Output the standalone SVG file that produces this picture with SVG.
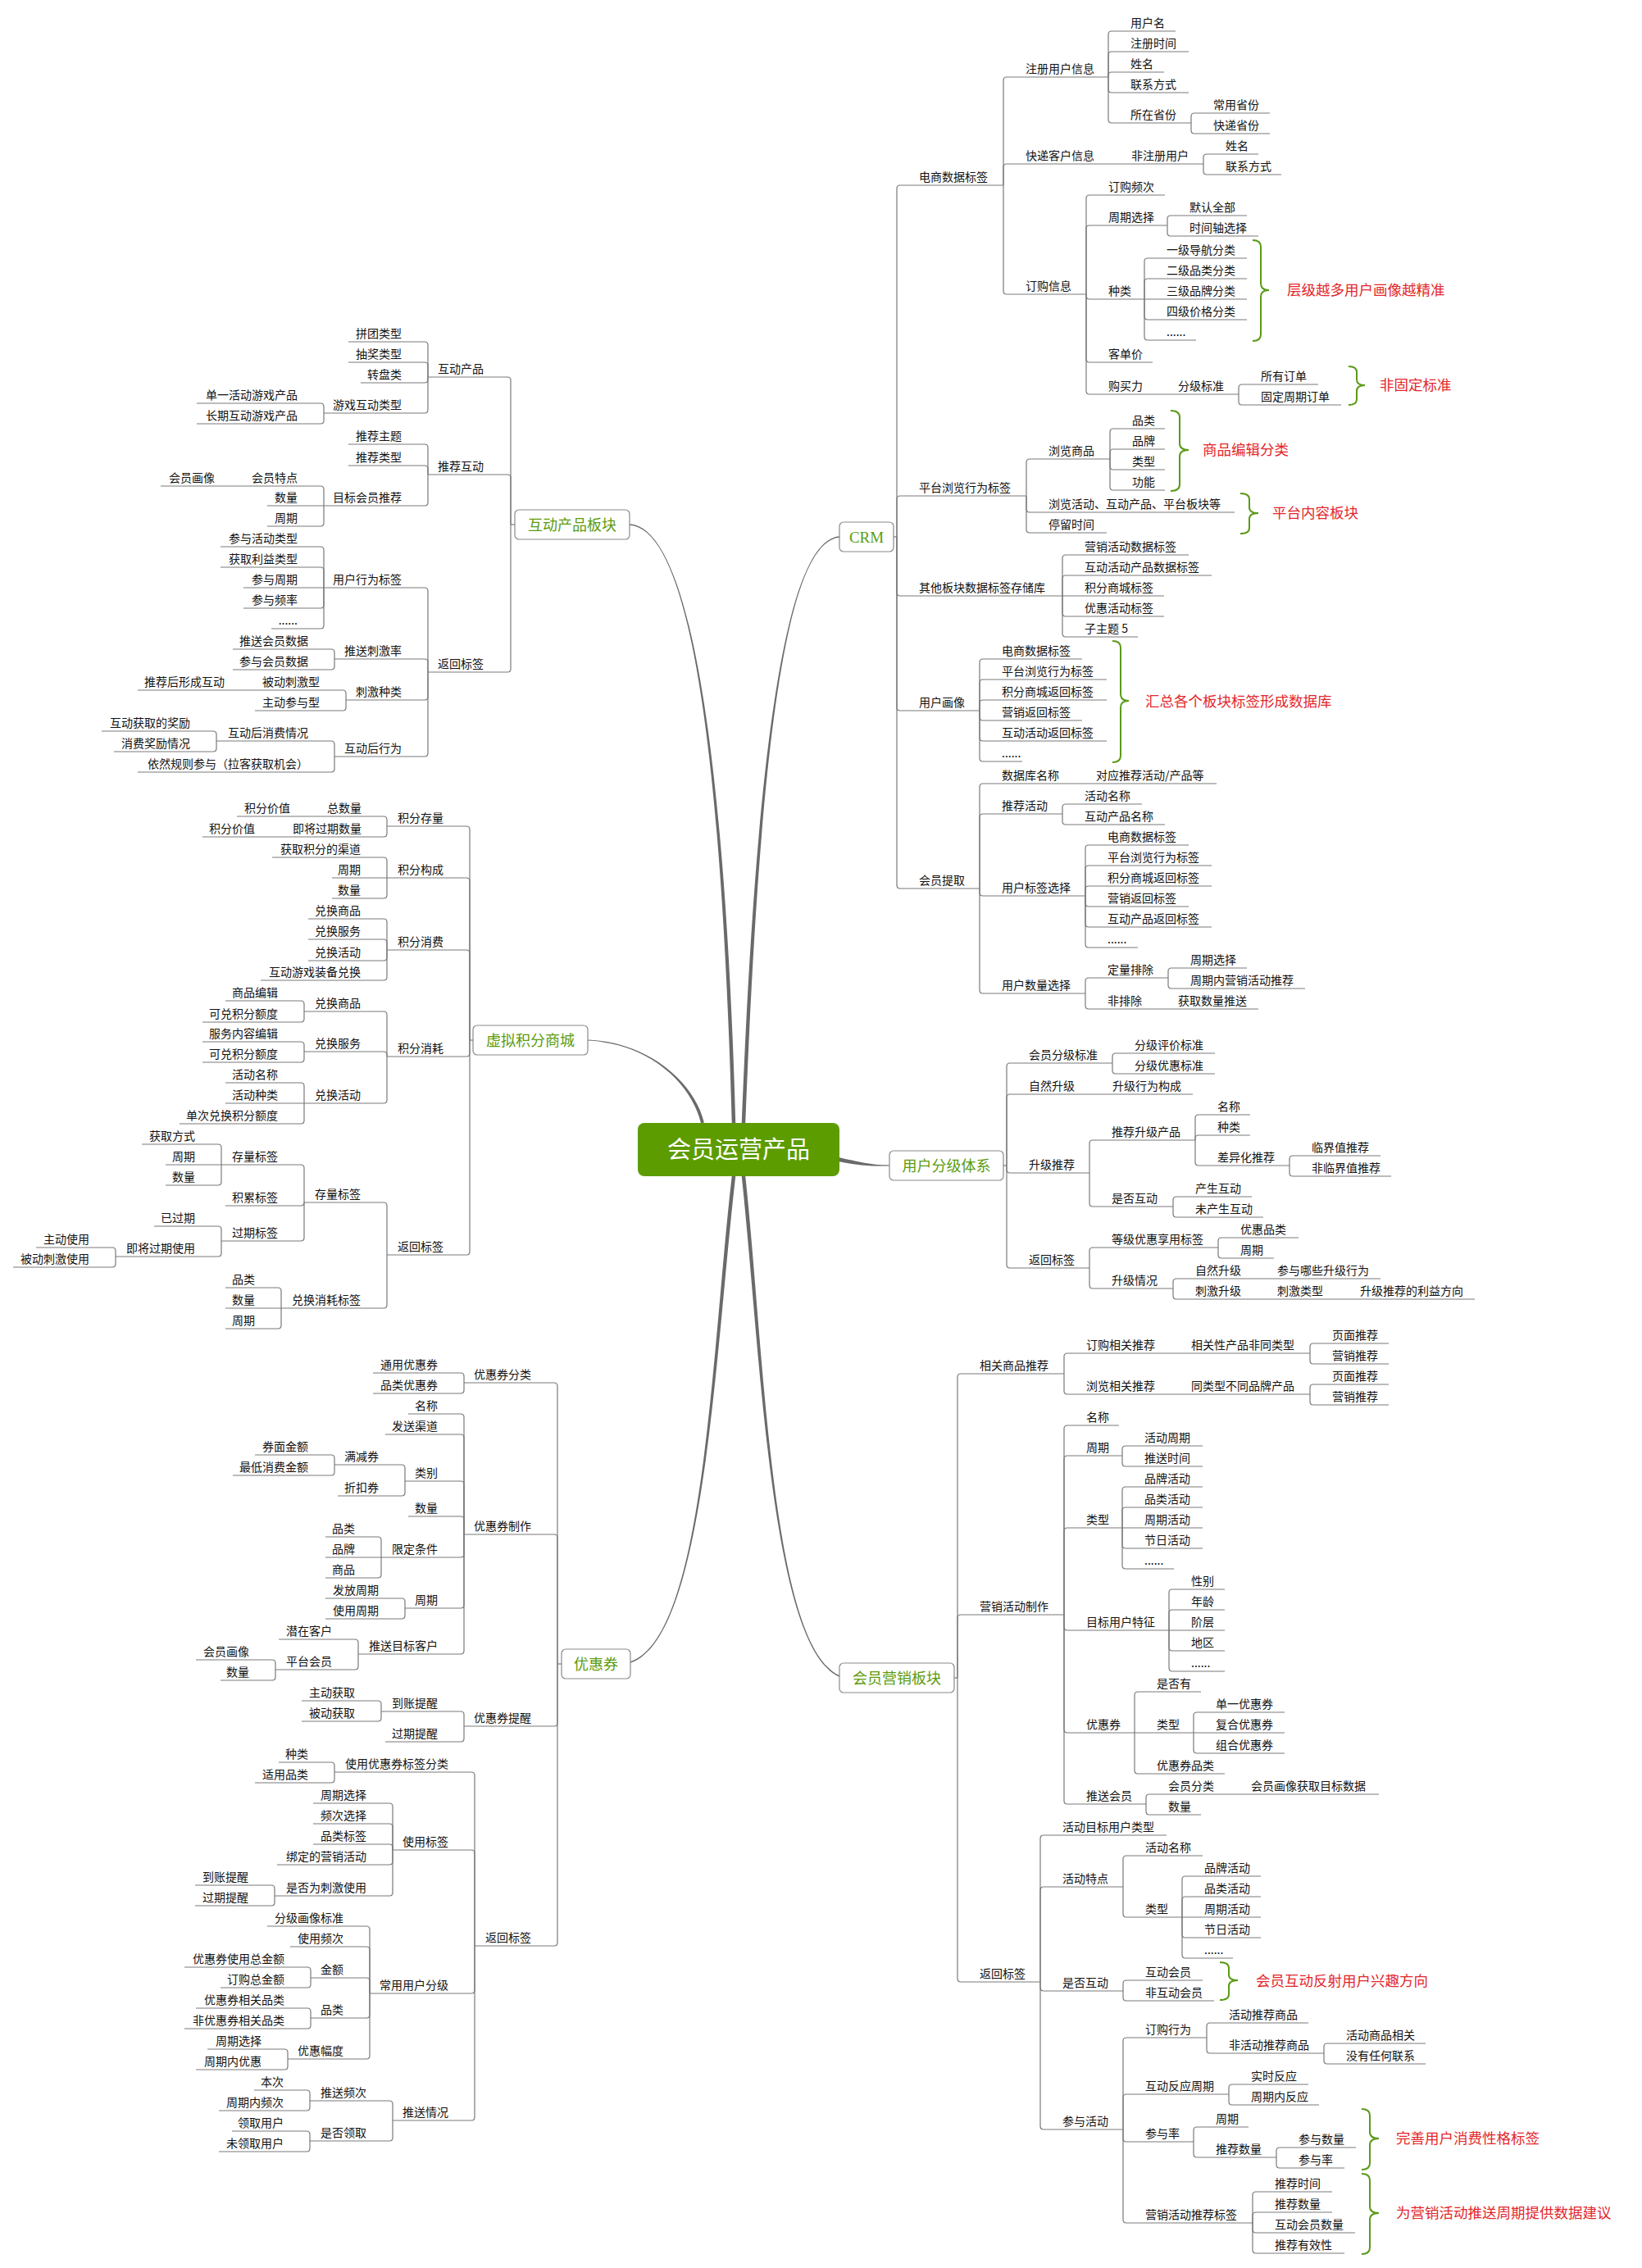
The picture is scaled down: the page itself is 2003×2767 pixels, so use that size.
<svg xmlns="http://www.w3.org/2000/svg" width="2003" height="2767" viewBox="0 0 2003 2767">
<style>
.t{font-family:"Noto Sans CJK SC","Noto Sans",sans-serif;font-size:14px;fill:#111}
.e{text-anchor:end}
.b{font-family:"Noto Sans CJK SC","Noto Sans",sans-serif;font-size:18px;fill:#5b9b0d;text-anchor:middle}
.crm{font-family:"Liberation Serif",serif;font-size:19px;fill:#5b9b0d;text-anchor:middle}
.box{fill:#fff;stroke:#8a8a8a;stroke-width:1.2}
.r{font-family:"Noto Sans CJK SC","Noto Sans",sans-serif;font-size:17.5px;fill:#e3262b}
#connectors path{fill:none;stroke:#7a7a7a;stroke-width:1.2}
#connectors path.main{fill:#6a6a6a;stroke:none}
#connectors path.br{stroke:#5a9a18;stroke-width:2}
</style>
<rect width="2003" height="2767" fill="#fff"/>
<g id="connectors">
<path class="main" d="M897.25 1370C886.25 980 850 644.25 768 639.25L768 640.75C850 645.75 881.75 980 892.75 1370Z"/>
<path class="main" d="M858.9 1369.5C846.9 1319.5 790 1271.4 717 1268.4L717 1269.6C790 1272.6 843.1 1320.5 855.1 1370.5Z"/>
<path class="main" d="M904.75 1370C919.75 990 950 659.25 1024 654.25L1024 655.75C950 660.75 924.25 990 909.25 1370Z"/>
<path class="main" d="M1020 1411.5C1050 1417.5 1060 1421.4 1085 1421.4L1085 1422.6C1060 1422.6 1050 1422.5 1020 1416.5Z"/>
<path class="main" d="M897.25 1435C872.25 1650 860.2 1998.7 769.2 2028.7L768.8 2027.3C859.8 1997.3 867.75 1650 892.75 1435Z"/>
<path class="main" d="M904.75 1435C927.75 1650 939.7 2008.7 1023.7 2045.7L1024.3 2044.3C940.3 2007.3 932.25 1650 909.25 1435Z"/>
<!-- tree 1 -->
<path d="M623 640H628"/>
<path d="M522 460H619Q623 460 623 464V640"/>
<path d="M522 579H619Q623 579 623 583V640"/>
<path d="M522 820H619Q623 820 623 816V640"/>
<path d="M425 417H518Q522 417 522 421V460"/>
<path d="M425 442H518Q522 442 522 446V460"/>
<path d="M440 467H518Q522 467 522 463V460"/>
<path d="M395 504H518Q522 504 522 500V460"/>
<path d="M240 492H391Q395 492 395 496V504"/>
<path d="M240 517H391Q395 517 395 513V504"/>
<path d="M425 542H518Q522 542 522 546V579"/>
<path d="M425 568H518Q522 568 522 572V579"/>
<path d="M395 617H518Q522 617 522 613V579"/>
<path d="M297 593H391Q395 593 395 597V617"/>
<path d="M196 593H297"/>
<path d="M326 617H395"/>
<path d="M326 642H391Q395 642 395 638V617"/>
<path d="M395 717H518Q522 717 522 721V820"/>
<path d="M408 804H518Q522 804 522 808V820"/>
<path d="M422 854H518Q522 854 522 850V820"/>
<path d="M408 923H518Q522 923 522 919V820"/>
<path d="M269 667H391Q395 667 395 671V717"/>
<path d="M269 692H391Q395 692 395 696V717"/>
<path d="M297 717H395"/>
<path d="M297 742H391Q395 742 395 738V717"/>
<path d="M331 767H391Q395 767 395 763V717"/>
<path d="M284 792H404Q408 792 408 796V804"/>
<path d="M284 817H404Q408 817 408 813V804"/>
<path d="M311 842H418Q422 842 422 846V854"/>
<path d="M168 842H311"/>
<path d="M311 867H418Q422 867 422 863V854"/>
<path d="M264 904H404Q408 904 408 908V923"/>
<path d="M168 942H404Q408 942 408 938V923"/>
<path d="M124 892H260Q264 892 264 896V904"/>
<path d="M139 917H260Q264 917 264 913V904"/>
<!-- tree 2 -->
<path d="M573 1269H577"/>
<path d="M472 1008H569Q573 1008 573 1012V1269"/>
<path d="M472 1071H569Q573 1071 573 1075V1269"/>
<path d="M472 1159H569Q573 1159 573 1163V1269"/>
<path d="M472 1289H569Q573 1289 573 1285V1269"/>
<path d="M472 1531H569Q573 1531 573 1527V1269"/>
<path d="M392 996H468Q472 996 472 1000V1008"/>
<path d="M289 996H392"/>
<path d="M347 1021H468Q472 1021 472 1017V1008"/>
<path d="M247 1021H347"/>
<path d="M332 1046H468Q472 1046 472 1050V1071"/>
<path d="M405 1071H472"/>
<path d="M405 1096H468Q472 1096 472 1092V1071"/>
<path d="M376 1121H468Q472 1121 472 1125V1159"/>
<path d="M376 1146H468Q472 1146 472 1150V1159"/>
<path d="M376 1172H468Q472 1172 472 1168V1159"/>
<path d="M318 1196H468Q472 1196 472 1192V1159"/>
<path d="M371 1234H468Q472 1234 472 1238V1289"/>
<path d="M371 1283H468Q472 1283 472 1287V1289"/>
<path d="M371 1346H468Q472 1346 472 1342V1289"/>
<path d="M275 1221H367Q371 1221 371 1225V1234"/>
<path d="M247 1247H367Q371 1247 371 1243V1234"/>
<path d="M247 1271H367Q371 1271 371 1275V1283"/>
<path d="M247 1296H367Q371 1296 371 1292V1283"/>
<path d="M275 1321H367Q371 1321 371 1325V1346"/>
<path d="M275 1346H371"/>
<path d="M219 1371H367Q371 1371 371 1367V1346"/>
<path d="M371 1467H468Q472 1467 472 1471V1531"/>
<path d="M343 1596H468Q472 1596 472 1592V1531"/>
<path d="M270 1421H367Q371 1421 371 1425V1467"/>
<path d="M275 1471H367Q371 1471 371 1467"/>
<path d="M270 1514H367Q371 1514 371 1510V1467"/>
<path d="M173 1396H266Q270 1396 270 1400V1421"/>
<path d="M202 1421H270"/>
<path d="M202 1446H266Q270 1446 270 1442V1421"/>
<path d="M188 1496H266Q270 1496 270 1500V1514"/>
<path d="M141 1533H266Q270 1533 270 1529V1514"/>
<path d="M44 1522H137Q141 1522 141 1526V1533"/>
<path d="M16 1546H137Q141 1546 141 1542V1533"/>
<path d="M275 1571H339Q343 1571 343 1575V1596"/>
<path d="M275 1596H343"/>
<path d="M275 1621H339Q343 1621 343 1617V1596"/>
<!-- tree 3 -->
<path d="M680 2030H685"/>
<path d="M566 1687H676Q680 1687 680 1691V2030"/>
<path d="M566 1872H676Q680 1872 680 1876V2030"/>
<path d="M566 2106H676Q680 2106 680 2102V2030"/>
<path d="M579 2374H676Q680 2374 680 2370V2030"/>
<path d="M455 1675H562Q566 1675 566 1679V1687"/>
<path d="M455 1700H562Q566 1700 566 1696V1687"/>
<path d="M498 1725H562Q566 1725 566 1729V1872"/>
<path d="M470 1750H562Q566 1750 566 1754V1872"/>
<path d="M494 1807H562Q566 1807 566 1811V1872"/>
<path d="M498 1850H562Q566 1850 566 1854V1872"/>
<path d="M465 1900H562Q566 1900 566 1896V1872"/>
<path d="M494 1962H562Q566 1962 566 1958V1872"/>
<path d="M437 2018H562Q566 2018 566 2014V1872"/>
<path d="M408 1787H490Q494 1787 494 1791V1807"/>
<path d="M412 1825H490Q494 1825 494 1821V1807"/>
<path d="M311 1775H404Q408 1775 408 1779V1787"/>
<path d="M284 1800H404Q408 1800 408 1796V1787"/>
<path d="M397 1875H461Q465 1875 465 1879V1900"/>
<path d="M397 1900H465"/>
<path d="M397 1925H461Q465 1925 465 1921V1900"/>
<path d="M397 1950H490Q494 1950 494 1954V1962"/>
<path d="M397 1975H490Q494 1975 494 1971V1962"/>
<path d="M340 2000H433Q437 2000 437 2004V2018"/>
<path d="M336 2037H433Q437 2037 437 2033V2018"/>
<path d="M239 2025H332Q336 2025 336 2029V2037"/>
<path d="M269 2050H332Q336 2050 336 2046V2037"/>
<path d="M465 2088H562Q566 2088 566 2092V2106"/>
<path d="M470 2125H562Q566 2125 566 2121V2106"/>
<path d="M368 2075H461Q465 2075 465 2079V2088"/>
<path d="M368 2100H461Q465 2100 465 2096V2088"/>
<path d="M408 2162H575Q579 2162 579 2166V2374"/>
<path d="M479 2257H575Q579 2257 579 2261V2374"/>
<path d="M451 2432H575Q579 2432 579 2428V2374"/>
<path d="M479 2587H575Q579 2587 579 2583V2374"/>
<path d="M340 2150H404Q408 2150 408 2154V2162"/>
<path d="M311 2175H404Q408 2175 408 2171V2162"/>
<path d="M382 2200H475Q479 2200 479 2204V2257"/>
<path d="M382 2225H475Q479 2225 479 2229V2257"/>
<path d="M382 2250H475Q479 2250 479 2254V2257"/>
<path d="M338 2275H475Q479 2275 479 2271V2257"/>
<path d="M335 2313H475Q479 2313 479 2309V2257"/>
<path d="M238 2300H331Q335 2300 335 2304V2313"/>
<path d="M238 2325H331Q335 2325 335 2321V2313"/>
<path d="M326 2350H447Q451 2350 451 2354V2432"/>
<path d="M354 2375H447Q451 2375 451 2379V2432"/>
<path d="M379 2413H447Q451 2413 451 2417V2432"/>
<path d="M379 2462H447Q451 2462 451 2458V2432"/>
<path d="M351 2512H447Q451 2512 451 2508V2432"/>
<path d="M225 2400H375Q379 2400 379 2404V2413"/>
<path d="M269 2425H375Q379 2425 379 2421V2413"/>
<path d="M239 2450H375Q379 2450 379 2454V2462"/>
<path d="M225 2475H375Q379 2475 379 2471V2462"/>
<path d="M253 2500H347Q351 2500 351 2504V2512"/>
<path d="M239 2525H347Q351 2525 351 2521V2512"/>
<path d="M378 2563H475Q479 2563 479 2567V2587"/>
<path d="M378 2612H475Q479 2612 479 2608V2587"/>
<path d="M310 2550H374Q378 2550 378 2554V2563"/>
<path d="M267 2575H374Q378 2575 378 2571V2563"/>
<path d="M283 2600H374Q378 2600 378 2604V2612"/>
<path d="M267 2625H374Q378 2625 378 2621V2612"/>
<!-- CRM -->
<path d="M1090 655H1094"/>
<path d="M1224 226H1098Q1094 226 1094 230V655"/>
<path d="M1252 605H1098Q1094 605 1094 609V655"/>
<path d="M1296 727H1098Q1094 727 1094 723V655"/>
<path d="M1195 867H1098Q1094 867 1094 863V655"/>
<path d="M1195 1084H1098Q1094 1084 1094 1080V655"/>
<path d="M1352 94H1228Q1224 94 1224 98V226"/>
<path d="M1353 200H1228Q1224 200 1224 204V226"/>
<path d="M1325 359H1228Q1224 359 1224 355V226"/>
<path d="M1468 200H1353"/>
<path d="M1434 38H1356Q1352 38 1352 42V94"/>
<path d="M1450 63H1356Q1352 63 1352 67V94"/>
<path d="M1420 88H1356Q1352 88 1352 92V94"/>
<path d="M1450 113H1356Q1352 113 1352 109V94"/>
<path d="M1453 150H1356Q1352 150 1352 146V94"/>
<path d="M1549 138H1457Q1453 138 1453 142V150"/>
<path d="M1549 163H1457Q1453 163 1453 159V150"/>
<path d="M1535 188H1472Q1468 188 1468 192V200"/>
<path d="M1563 213H1472Q1468 213 1468 209V200"/>
<path d="M1421 238H1329Q1325 238 1325 242V359"/>
<path d="M1424 275H1329Q1325 275 1325 279V359"/>
<path d="M1396 365H1329Q1325 365 1325 361V359"/>
<path d="M1406 442H1329Q1325 442 1325 438V359"/>
<path d="M1410 481H1329Q1325 481 1325 477V359"/>
<path d="M1511 481H1410"/>
<path d="M1521 263H1428Q1424 263 1424 267V275"/>
<path d="M1535 288H1428Q1424 288 1424 284V275"/>
<path d="M1521 315H1400Q1396 315 1396 319V365"/>
<path d="M1521 340H1400Q1396 340 1396 344V365"/>
<path d="M1521 365H1396"/>
<path d="M1521 390H1400Q1396 390 1396 386V365"/>
<path d="M1459 415H1400Q1396 415 1396 411V365"/>
<path d="M1608 469H1515Q1511 469 1511 473V481"/>
<path d="M1636 494H1515Q1511 494 1511 490V481"/>
<path d="M1354 560H1256Q1252 560 1252 564V605"/>
<path d="M1506 625H1256Q1252 625 1252 621V605"/>
<path d="M1350 650H1256Q1252 650 1252 646V605"/>
<path d="M1421 523H1358Q1354 523 1354 527V560"/>
<path d="M1421 548H1358Q1354 548 1354 552V560"/>
<path d="M1421 573H1358Q1354 573 1354 569V560"/>
<path d="M1421 598H1358Q1354 598 1354 594V560"/>
<path d="M1450 677H1300Q1296 677 1296 681V727"/>
<path d="M1478 702H1300Q1296 702 1296 706V727"/>
<path d="M1420 727H1296"/>
<path d="M1420 752H1300Q1296 752 1296 748V727"/>
<path d="M1388 777H1300Q1296 777 1296 773V727"/>
<path d="M1320 804H1199Q1195 804 1195 808V867"/>
<path d="M1350 829H1199Q1195 829 1195 833V867"/>
<path d="M1350 854H1199Q1195 854 1195 858V867"/>
<path d="M1320 879H1199Q1195 879 1195 875V867"/>
<path d="M1350 904H1199Q1195 904 1195 900V867"/>
<path d="M1247 929H1199Q1195 929 1195 925V867"/>
<path d="M1310 956H1199Q1195 956 1195 960V1084"/>
<path d="M1484 956H1310"/>
<path d="M1296 993H1199Q1195 993 1195 997V1084"/>
<path d="M1324 1093H1199Q1195 1093 1195 1089V1084"/>
<path d="M1324 1212H1199Q1195 1212 1195 1208V1084"/>
<path d="M1393 981H1300Q1296 981 1296 985V993"/>
<path d="M1421 1006H1300Q1296 1006 1296 1002V993"/>
<path d="M1450 1031H1328Q1324 1031 1324 1035V1093"/>
<path d="M1478 1056H1328Q1324 1056 1324 1060V1093"/>
<path d="M1478 1081H1328Q1324 1081 1324 1085V1093"/>
<path d="M1450 1106H1328Q1324 1106 1324 1102V1093"/>
<path d="M1478 1131H1328Q1324 1131 1324 1127V1093"/>
<path d="M1388 1156H1328Q1324 1156 1324 1152V1093"/>
<path d="M1425 1193H1328Q1324 1193 1324 1197V1212"/>
<path d="M1410 1231H1328Q1324 1231 1324 1227V1212"/>
<path d="M1535 1231H1410"/>
<path d="M1521 1181H1429Q1425 1181 1425 1185V1193"/>
<path d="M1592 1206H1429Q1425 1206 1425 1202V1193"/>
<path class="br" d="M1528 293Q1538 293 1538 301L1538 346Q1538 354 1548 354Q1538 354 1538 362L1538 408Q1538 416 1528 416"/>
<path class="br" d="M1645 447Q1655 447 1655 454L1655 463Q1655 470 1665 470Q1655 470 1655 477L1655 487Q1655 494 1645 494"/>
<path class="br" d="M1428 501Q1439 501 1439 509L1439 541Q1439 549 1450 549Q1439 549 1439 557L1439 591Q1439 599 1428 599"/>
<path class="br" d="M1513 602Q1524 602 1524 609L1524 619Q1524 626 1535 626Q1524 626 1524 633L1524 644Q1524 651 1513 651"/>
<path class="br" d="M1357 782Q1367 782 1367 790L1367 847Q1367 855 1377 855Q1367 855 1367 863L1367 922Q1367 930 1357 930"/>
<!-- user level -->
<path d="M1224 1422H1228"/>
<path d="M1357 1297H1232Q1228 1297 1228 1301V1422"/>
<path d="M1330 1335H1232Q1228 1335 1228 1339V1422"/>
<path d="M1455 1335H1330"/>
<path d="M1329 1431H1232Q1228 1431 1228 1427V1422"/>
<path d="M1329 1547H1232Q1228 1547 1228 1543V1422"/>
<path d="M1482 1285H1361Q1357 1285 1357 1289V1297"/>
<path d="M1482 1310H1361Q1357 1310 1357 1306V1297"/>
<path d="M1458 1391H1333Q1329 1391 1329 1395V1431"/>
<path d="M1431 1472H1333Q1329 1472 1329 1468V1431"/>
<path d="M1525 1360H1462Q1458 1360 1458 1364V1391"/>
<path d="M1525 1385H1462Q1458 1385 1458 1389V1391"/>
<path d="M1573 1422H1462Q1458 1422 1458 1418V1391"/>
<path d="M1684 1410H1577Q1573 1410 1573 1414V1422"/>
<path d="M1697 1435H1577Q1573 1435 1573 1431V1422"/>
<path d="M1527 1460H1435Q1431 1460 1431 1464V1472"/>
<path d="M1541 1485H1435Q1431 1485 1431 1481V1472"/>
<path d="M1486 1522H1333Q1329 1522 1329 1526V1547"/>
<path d="M1431 1572H1333Q1329 1572 1329 1568V1547"/>
<path d="M1584 1510H1490Q1486 1510 1486 1514V1522"/>
<path d="M1554 1535H1490Q1486 1535 1486 1531V1522"/>
<path d="M1531 1560H1435Q1431 1560 1431 1564V1572"/>
<path d="M1684 1560H1531"/>
<path d="M1531 1585H1435Q1431 1585 1431 1581V1572"/>
<path d="M1632 1585H1531"/>
<path d="M1799 1585H1632"/>
<!-- marketing -->
<path d="M1164 2047H1168"/>
<path d="M1298 1676H1172Q1168 1676 1168 1680V2047"/>
<path d="M1298 1970H1172Q1168 1970 1168 1974V2047"/>
<path d="M1269 2418H1172Q1168 2418 1168 2414V2047"/>
<path d="M1426 1651H1302Q1298 1651 1298 1655V1676"/>
<path d="M1598 1651H1426"/>
<path d="M1426 1701H1302Q1298 1701 1298 1697V1676"/>
<path d="M1598 1701H1426"/>
<path d="M1694 1639H1602Q1598 1639 1598 1643V1651"/>
<path d="M1694 1664H1602Q1598 1664 1598 1660V1651"/>
<path d="M1694 1689H1602Q1598 1689 1598 1693V1701"/>
<path d="M1694 1714H1602Q1598 1714 1598 1710V1701"/>
<path d="M1365 1739H1302Q1298 1739 1298 1743V1970"/>
<path d="M1369 1776H1302Q1298 1776 1298 1780V1970"/>
<path d="M1369 1864H1302Q1298 1864 1298 1868V1970"/>
<path d="M1426 1989H1302Q1298 1989 1298 1985V1970"/>
<path d="M1384 2114H1302Q1298 2114 1298 2110V1970"/>
<path d="M1398 2201H1302Q1298 2201 1298 2197V1970"/>
<path d="M1467 1764H1373Q1369 1764 1369 1768V1776"/>
<path d="M1467 1789H1373Q1369 1789 1369 1785V1776"/>
<path d="M1467 1814H1373Q1369 1814 1369 1818V1864"/>
<path d="M1467 1839H1373Q1369 1839 1369 1843V1864"/>
<path d="M1467 1864H1369"/>
<path d="M1467 1889H1373Q1369 1889 1369 1885V1864"/>
<path d="M1432 1914H1373Q1369 1914 1369 1910V1864"/>
<path d="M1494 1939H1430Q1426 1939 1426 1943V1989"/>
<path d="M1494 1964H1430Q1426 1964 1426 1968V1989"/>
<path d="M1494 1989H1426"/>
<path d="M1494 2014H1430Q1426 2014 1426 2010V1989"/>
<path d="M1494 2039H1430Q1426 2039 1426 2035V1989"/>
<path d="M1465 2064H1388Q1384 2064 1384 2068V2114"/>
<path d="M1456 2114H1384"/>
<path d="M1494 2164H1388Q1384 2164 1384 2160V2114"/>
<path d="M1567 2089H1460Q1456 2089 1456 2093V2114"/>
<path d="M1567 2114H1456"/>
<path d="M1567 2139H1460Q1456 2139 1456 2135V2114"/>
<path d="M1500 2189H1402Q1398 2189 1398 2193V2201"/>
<path d="M1682 2189H1500"/>
<path d="M1465 2214H1402Q1398 2214 1398 2210V2201"/>
<path d="M1423 2239H1273Q1269 2239 1269 2243V2418"/>
<path d="M1370 2302H1273Q1269 2302 1269 2306V2418"/>
<path d="M1370 2429H1273Q1269 2429 1269 2425V2418"/>
<path d="M1370 2598H1273Q1269 2598 1269 2594V2418"/>
<path d="M1467 2264H1374Q1370 2264 1370 2268V2302"/>
<path d="M1442 2339H1374Q1370 2339 1370 2335V2302"/>
<path d="M1538 2289H1446Q1442 2289 1442 2293V2339"/>
<path d="M1538 2314H1446Q1442 2314 1442 2318V2339"/>
<path d="M1538 2339H1442"/>
<path d="M1538 2364H1446Q1442 2364 1442 2360V2339"/>
<path d="M1504 2389H1446Q1442 2389 1442 2385V2339"/>
<path d="M1467 2416H1374Q1370 2416 1370 2420V2429"/>
<path d="M1481 2441H1374Q1370 2441 1370 2437V2429"/>
<path d="M1472 2486H1374Q1370 2486 1370 2490V2598"/>
<path d="M1499 2555H1374Q1370 2555 1370 2559V2598"/>
<path d="M1456 2613H1374Q1370 2613 1370 2609V2598"/>
<path d="M1528 2712H1374Q1370 2712 1370 2708V2598"/>
<path d="M1596 2468H1476Q1472 2468 1472 2472V2486"/>
<path d="M1615 2505H1476Q1472 2505 1472 2501V2486"/>
<path d="M1739 2493H1619Q1615 2493 1615 2497V2505"/>
<path d="M1739 2518H1619Q1615 2518 1615 2514V2505"/>
<path d="M1596 2543H1503Q1499 2543 1499 2547V2555"/>
<path d="M1609 2568H1503Q1499 2568 1499 2564V2555"/>
<path d="M1523 2595H1460Q1456 2595 1456 2599V2613"/>
<path d="M1557 2632H1460Q1456 2632 1456 2628V2613"/>
<path d="M1654 2620H1561Q1557 2620 1557 2624V2632"/>
<path d="M1640 2645H1561Q1557 2645 1557 2641V2632"/>
<path d="M1625 2674H1532Q1528 2674 1528 2678V2712"/>
<path d="M1625 2699H1532Q1528 2699 1528 2703V2712"/>
<path d="M1653 2724H1532Q1528 2724 1528 2720V2712"/>
<path d="M1640 2749H1532Q1528 2749 1528 2745V2712"/>
<path class="br" d="M1488 2394Q1499 2394 1499 2401L1499 2409Q1499 2416 1510 2416Q1499 2416 1499 2423L1499 2433Q1499 2440 1488 2440"/>
<path class="br" d="M1661 2573Q1671 2573 1671 2581L1671 2601Q1671 2609 1682 2609Q1671 2609 1671 2617L1671 2639Q1671 2647 1661 2647"/>
<path class="br" d="M1661 2652Q1671 2652 1671 2660L1671 2692Q1671 2700 1682 2700Q1671 2700 1671 2708L1671 2742Q1671 2750 1661 2750"/>
</g>
<!-- root -->
<g id="root"><rect x="778" y="1370" width="246" height="65" rx="8" fill="#5c9c00"/><text x="901" y="1413" font-family="'Noto Sans CJK SC',sans-serif" font-size="29" fill="#fff" text-anchor="middle">会员运营产品</text></g>
<!-- main branches -->
<g id="b-hdcp"><rect class="box" x="628" y="622" width="140" height="36" rx="5"/><text class="b" x="698" y="646.5">互动产品板块</text></g>
<g id="b-xnjf"><rect class="box" x="577" y="1251" width="140" height="36" rx="5"/><text class="b" x="647" y="1275.5">虚拟积分商城</text></g>
<g id="b-yhq"><rect class="box" x="685" y="2012" width="84" height="36" rx="5"/><text class="b" x="727" y="2036.5">优惠券</text></g>
<g id="b-crm"><rect class="box" x="1024" y="637" width="66" height="36" rx="5"/><text class="crm" x="1057" y="661.5">CRM</text></g>
<g id="b-yhfj"><rect class="box" x="1085" y="1404" width="139" height="36" rx="5"/><text class="b" x="1154.5" y="1428.5">用户分级体系</text></g>
<g id="b-hyyx"><rect class="box" x="1024" y="2029" width="140" height="36" rx="5"/><text class="b" x="1094" y="2053.5">会员营销板块</text></g>
<!-- tree 1 nodes -->
<g id="a01"><text class="t e" x="590" y="455">互动产品</text></g>
<g id="a02"><text class="t e" x="590" y="574">推荐互动</text></g>
<g id="a03"><text class="t e" x="590" y="815">返回标签</text></g>
<g id="a04"><text class="t e" x="490" y="412">拼团类型</text></g>
<g id="a05"><text class="t e" x="490" y="437">抽奖类型</text></g>
<g id="a06"><text class="t e" x="490" y="462">转盘类</text></g>
<g id="a07"><text class="t e" x="490" y="499">游戏互动类型</text></g>
<g id="a08"><text class="t e" x="363" y="487">单一活动游戏产品</text></g>
<g id="a09"><text class="t e" x="363" y="512">长期互动游戏产品</text></g>
<g id="a10"><text class="t e" x="490" y="537">推荐主题</text></g>
<g id="a11"><text class="t e" x="490" y="563">推荐类型</text></g>
<g id="a12"><text class="t e" x="490" y="612">目标会员推荐</text></g>
<g id="a13"><text class="t e" x="363" y="588">会员特点</text></g>
<g id="a14"><text class="t e" x="262" y="588">会员画像</text></g>
<g id="a15"><text class="t e" x="363" y="612">数量</text></g>
<g id="a16"><text class="t e" x="363" y="637">周期</text></g>
<g id="a17"><text class="t e" x="490" y="712">用户行为标签</text></g>
<g id="a18"><text class="t e" x="490" y="799">推送刺激率</text></g>
<g id="a19"><text class="t e" x="490" y="849">刺激种类</text></g>
<g id="a20"><text class="t e" x="490" y="918">互动后行为</text></g>
<g id="a21"><text class="t e" x="363" y="662">参与活动类型</text></g>
<g id="a22"><text class="t e" x="363" y="687">获取利益类型</text></g>
<g id="a23"><text class="t e" x="363" y="712">参与周期</text></g>
<g id="a24"><text class="t e" x="363" y="737">参与频率</text></g>
<g id="a25"><text class="t e" x="363" y="762">......</text></g>
<g id="a26"><text class="t e" x="376" y="787">推送会员数据</text></g>
<g id="a27"><text class="t e" x="376" y="812">参与会员数据</text></g>
<g id="a28"><text class="t e" x="390" y="837">被动刺激型</text></g>
<g id="a29"><text class="t e" x="274" y="837">推荐后形成互动</text></g>
<g id="a30"><text class="t e" x="390" y="862">主动参与型</text></g>
<g id="a31"><text class="t e" x="376" y="899">互动后消费情况</text></g>
<g id="a32"><text class="t e" x="376" y="937">依然规则参与（拉客获取机会）</text></g>
<g id="a33"><text class="t e" x="232" y="887">互动获取的奖励</text></g>
<g id="a34"><text class="t e" x="232" y="912">消费奖励情况</text></g>
<!-- tree 2 nodes -->
<g id="c01"><text class="t e" x="541" y="1003">积分存量</text></g>
<g id="c02"><text class="t e" x="541" y="1066">积分构成</text></g>
<g id="c03"><text class="t e" x="541" y="1154">积分消费</text></g>
<g id="c04"><text class="t e" x="541" y="1284">积分消耗</text></g>
<g id="c05"><text class="t e" x="541" y="1526">返回标签</text></g>
<g id="c06"><text class="t e" x="441" y="991">总数量</text></g>
<g id="c07"><text class="t e" x="354" y="991">积分价值</text></g>
<g id="c08"><text class="t e" x="441" y="1016">即将过期数量</text></g>
<g id="c09"><text class="t e" x="311" y="1016">积分价值</text></g>
<g id="c10"><text class="t e" x="440" y="1041">获取积分的渠道</text></g>
<g id="c11"><text class="t e" x="440" y="1066">周期</text></g>
<g id="c12"><text class="t e" x="440" y="1091">数量</text></g>
<g id="c13"><text class="t e" x="440" y="1116">兑换商品</text></g>
<g id="c14"><text class="t e" x="440" y="1141">兑换服务</text></g>
<g id="c15"><text class="t e" x="440" y="1167">兑换活动</text></g>
<g id="c16"><text class="t e" x="440" y="1191">互动游戏装备兑换</text></g>
<g id="c17"><text class="t e" x="440" y="1229">兑换商品</text></g>
<g id="c18"><text class="t e" x="440" y="1278">兑换服务</text></g>
<g id="c19"><text class="t e" x="440" y="1341">兑换活动</text></g>
<g id="c20"><text class="t e" x="339" y="1216">商品编辑</text></g>
<g id="c21"><text class="t e" x="339" y="1242">可兑积分额度</text></g>
<g id="c22"><text class="t e" x="339" y="1266">服务内容编辑</text></g>
<g id="c23"><text class="t e" x="339" y="1291">可兑积分额度</text></g>
<g id="c24"><text class="t e" x="339" y="1316">活动名称</text></g>
<g id="c25"><text class="t e" x="339" y="1341">活动种类</text></g>
<g id="c26"><text class="t e" x="339" y="1366">单次兑换积分额度</text></g>
<g id="c27"><text class="t e" x="440" y="1462">存量标签</text></g>
<g id="c28"><text class="t e" x="440" y="1591">兑换消耗标签</text></g>
<g id="c29"><text class="t e" x="339" y="1416">存量标签</text></g>
<g id="c30"><text class="t e" x="339" y="1466">积累标签</text></g>
<g id="c31"><text class="t e" x="339" y="1509">过期标签</text></g>
<g id="c32"><text class="t e" x="238" y="1391">获取方式</text></g>
<g id="c33"><text class="t e" x="238" y="1416">周期</text></g>
<g id="c34"><text class="t e" x="238" y="1441">数量</text></g>
<g id="c35"><text class="t e" x="238" y="1491">已过期</text></g>
<g id="c36"><text class="t e" x="238" y="1528">即将过期使用</text></g>
<g id="c37"><text class="t e" x="109" y="1517">主动使用</text></g>
<g id="c38"><text class="t e" x="109" y="1541">被动刺激使用</text></g>
<g id="c39"><text class="t e" x="311" y="1566">品类</text></g>
<g id="c40"><text class="t e" x="311" y="1591">数量</text></g>
<g id="c41"><text class="t e" x="311" y="1616">周期</text></g>
<!-- tree 3 nodes -->
<g id="d01"><text class="t e" x="648" y="1682">优惠券分类</text></g>
<g id="d02"><text class="t e" x="648" y="1867">优惠券制作</text></g>
<g id="d03"><text class="t e" x="648" y="2101">优惠券提醒</text></g>
<g id="d04"><text class="t e" x="648" y="2369">返回标签</text></g>
<g id="d05"><text class="t e" x="534" y="1670">通用优惠券</text></g>
<g id="d06"><text class="t e" x="534" y="1695">品类优惠券</text></g>
<g id="d07"><text class="t e" x="534" y="1720">名称</text></g>
<g id="d08"><text class="t e" x="534" y="1745">发送渠道</text></g>
<g id="d09"><text class="t e" x="534" y="1802">类别</text></g>
<g id="d10"><text class="t e" x="534" y="1845">数量</text></g>
<g id="d11"><text class="t e" x="534" y="1895">限定条件</text></g>
<g id="d12"><text class="t e" x="534" y="1957">周期</text></g>
<g id="d13"><text class="t e" x="534" y="2013">推送目标客户</text></g>
<g id="d14"><text class="t e" x="462" y="1782">满减券</text></g>
<g id="d15"><text class="t e" x="462" y="1820">折扣券</text></g>
<g id="d16"><text class="t e" x="376" y="1770">券面金额</text></g>
<g id="d17"><text class="t e" x="376" y="1795">最低消费金额</text></g>
<g id="d18"><text class="t e" x="433" y="1870">品类</text></g>
<g id="d19"><text class="t e" x="433" y="1895">品牌</text></g>
<g id="d20"><text class="t e" x="433" y="1920">商品</text></g>
<g id="d21"><text class="t e" x="462" y="1945">发放周期</text></g>
<g id="d22"><text class="t e" x="462" y="1970">使用周期</text></g>
<g id="d23"><text class="t e" x="405" y="1995">潜在客户</text></g>
<g id="d24"><text class="t e" x="405" y="2032">平台会员</text></g>
<g id="d25"><text class="t e" x="304" y="2020">会员画像</text></g>
<g id="d26"><text class="t e" x="304" y="2045">数量</text></g>
<g id="d27"><text class="t e" x="534" y="2083">到账提醒</text></g>
<g id="d28"><text class="t e" x="534" y="2120">过期提醒</text></g>
<g id="d29"><text class="t e" x="433" y="2070">主动获取</text></g>
<g id="d30"><text class="t e" x="433" y="2095">被动获取</text></g>
<g id="d31"><text class="t e" x="547" y="2157">使用优惠券标签分类</text></g>
<g id="d32"><text class="t e" x="547" y="2252">使用标签</text></g>
<g id="d33"><text class="t e" x="547" y="2427">常用用户分级</text></g>
<g id="d34"><text class="t e" x="547" y="2582">推送情况</text></g>
<g id="d35"><text class="t e" x="376" y="2145">种类</text></g>
<g id="d36"><text class="t e" x="376" y="2170">适用品类</text></g>
<g id="d37"><text class="t e" x="447" y="2195">周期选择</text></g>
<g id="d38"><text class="t e" x="447" y="2220">频次选择</text></g>
<g id="d39"><text class="t e" x="447" y="2245">品类标签</text></g>
<g id="d40"><text class="t e" x="447" y="2270">绑定的营销活动</text></g>
<g id="d41"><text class="t e" x="447" y="2308">是否为刺激使用</text></g>
<g id="d42"><text class="t e" x="303" y="2295">到账提醒</text></g>
<g id="d43"><text class="t e" x="303" y="2320">过期提醒</text></g>
<g id="d44"><text class="t e" x="419" y="2345">分级画像标准</text></g>
<g id="d45"><text class="t e" x="419" y="2370">使用频次</text></g>
<g id="d46"><text class="t e" x="419" y="2408">金额</text></g>
<g id="d47"><text class="t e" x="419" y="2457">品类</text></g>
<g id="d48"><text class="t e" x="419" y="2507">优惠幅度</text></g>
<g id="d49"><text class="t e" x="347" y="2395">优惠券使用总金额</text></g>
<g id="d50"><text class="t e" x="347" y="2420">订购总金额</text></g>
<g id="d51"><text class="t e" x="347" y="2445">优惠券相关品类</text></g>
<g id="d52"><text class="t e" x="347" y="2470">非优惠券相关品类</text></g>
<g id="d53"><text class="t e" x="319" y="2495">周期选择</text></g>
<g id="d54"><text class="t e" x="319" y="2520">周期内优惠</text></g>
<g id="d55"><text class="t e" x="447" y="2558">推送频次</text></g>
<g id="d56"><text class="t e" x="447" y="2607">是否领取</text></g>
<g id="d57"><text class="t e" x="346" y="2545">本次</text></g>
<g id="d58"><text class="t e" x="346" y="2570">周期内频次</text></g>
<g id="d59"><text class="t e" x="346" y="2595">领取用户</text></g>
<g id="d60"><text class="t e" x="346" y="2620">未领取用户</text></g>
<!-- CRM nodes -->
<g id="e01"><text class="t" x="1121" y="221">电商数据标签</text></g>
<g id="e02"><text class="t" x="1121" y="600">平台浏览行为标签</text></g>
<g id="e03"><text class="t" x="1121" y="722">其他板块数据标签存储库</text></g>
<g id="e04"><text class="t" x="1121" y="862">用户画像</text></g>
<g id="e05"><text class="t" x="1121" y="1079">会员提取</text></g>
<g id="e06"><text class="t" x="1251" y="89">注册用户信息</text></g>
<g id="e07"><text class="t" x="1251" y="195">快递客户信息</text></g>
<g id="e08"><text class="t" x="1380" y="195">非注册用户</text></g>
<g id="e09"><text class="t" x="1251" y="354">订购信息</text></g>
<g id="e10"><text class="t" x="1379" y="33">用户名</text></g>
<g id="e11"><text class="t" x="1379" y="58">注册时间</text></g>
<g id="e12"><text class="t" x="1379" y="83">姓名</text></g>
<g id="e13"><text class="t" x="1379" y="108">联系方式</text></g>
<g id="e14"><text class="t" x="1379" y="145">所在省份</text></g>
<g id="e15"><text class="t" x="1480" y="133">常用省份</text></g>
<g id="e16"><text class="t" x="1480" y="158">快递省份</text></g>
<g id="e17"><text class="t" x="1495" y="183">姓名</text></g>
<g id="e18"><text class="t" x="1495" y="208">联系方式</text></g>
<g id="e19"><text class="t" x="1352" y="233">订购频次</text></g>
<g id="e20"><text class="t" x="1352" y="270">周期选择</text></g>
<g id="e21"><text class="t" x="1352" y="360">种类</text></g>
<g id="e22"><text class="t" x="1352" y="437">客单价</text></g>
<g id="e23"><text class="t" x="1352" y="476">购买力</text></g>
<g id="e24"><text class="t" x="1437" y="476">分级标准</text></g>
<g id="e25"><text class="t" x="1451" y="258">默认全部</text></g>
<g id="e26"><text class="t" x="1451" y="283">时间轴选择</text></g>
<g id="e27"><text class="t" x="1423" y="310">一级导航分类</text></g>
<g id="e28"><text class="t" x="1423" y="335">二级品类分类</text></g>
<g id="e29"><text class="t" x="1423" y="360">三级品牌分类</text></g>
<g id="e30"><text class="t" x="1423" y="385">四级价格分类</text></g>
<g id="e31"><text class="t" x="1423" y="410">......</text></g>
<g id="e32"><text class="t" x="1538" y="464">所有订单</text></g>
<g id="e33"><text class="t" x="1538" y="489">固定周期订单</text></g>
<g id="e34"><text class="t" x="1279" y="555">浏览商品</text></g>
<g id="e35"><text class="t" x="1279" y="620">浏览活动、互动产品、平台板块等</text></g>
<g id="e36"><text class="t" x="1279" y="645">停留时间</text></g>
<g id="e37"><text class="t" x="1381" y="518">品类</text></g>
<g id="e38"><text class="t" x="1381" y="543">品牌</text></g>
<g id="e39"><text class="t" x="1381" y="568">类型</text></g>
<g id="e40"><text class="t" x="1381" y="593">功能</text></g>
<g id="e41"><text class="t" x="1323" y="672">营销活动数据标签</text></g>
<g id="e42"><text class="t" x="1323" y="697">互动活动产品数据标签</text></g>
<g id="e43"><text class="t" x="1323" y="722">积分商城标签</text></g>
<g id="e44"><text class="t" x="1323" y="747">优惠活动标签</text></g>
<g id="e45"><text class="t" x="1323" y="772">子主题 5</text></g>
<g id="e46"><text class="t" x="1222" y="799">电商数据标签</text></g>
<g id="e47"><text class="t" x="1222" y="824">平台浏览行为标签</text></g>
<g id="e48"><text class="t" x="1222" y="849">积分商城返回标签</text></g>
<g id="e49"><text class="t" x="1222" y="874">营销返回标签</text></g>
<g id="e50"><text class="t" x="1222" y="899">互动活动返回标签</text></g>
<g id="e51"><text class="t" x="1222" y="924">......</text></g>
<g id="e52"><text class="t" x="1222" y="951">数据库名称</text></g>
<g id="e53"><text class="t" x="1337" y="951">对应推荐活动/产品等</text></g>
<g id="e54"><text class="t" x="1222" y="988">推荐活动</text></g>
<g id="e55"><text class="t" x="1222" y="1088">用户标签选择</text></g>
<g id="e56"><text class="t" x="1222" y="1207">用户数量选择</text></g>
<g id="e57"><text class="t" x="1323" y="976">活动名称</text></g>
<g id="e58"><text class="t" x="1323" y="1001">互动产品名称</text></g>
<g id="e59"><text class="t" x="1351" y="1026">电商数据标签</text></g>
<g id="e60"><text class="t" x="1351" y="1051">平台浏览行为标签</text></g>
<g id="e61"><text class="t" x="1351" y="1076">积分商城返回标签</text></g>
<g id="e62"><text class="t" x="1351" y="1101">营销返回标签</text></g>
<g id="e63"><text class="t" x="1351" y="1126">互动产品返回标签</text></g>
<g id="e64"><text class="t" x="1351" y="1151">......</text></g>
<g id="e65"><text class="t" x="1351" y="1188">定量排除</text></g>
<g id="e66"><text class="t" x="1351" y="1226">非排除</text></g>
<g id="e67"><text class="t" x="1437" y="1226">获取数量推送</text></g>
<g id="e68"><text class="t" x="1452" y="1176">周期选择</text></g>
<g id="e69"><text class="t" x="1452" y="1201">周期内营销活动推荐</text></g>
<g id="note1"><text class="r" x="1570" y="360">层级越多用户画像越精准</text></g>
<g id="note2"><text class="r" x="1683" y="476">非固定标准</text></g>
<g id="note3"><text class="r" x="1467" y="555">商品编辑分类</text></g>
<g id="note4"><text class="r" x="1552" y="632">平台内容板块</text></g>
<g id="note5"><text class="r" x="1397" y="862">汇总各个板块标签形成数据库</text></g>
<!-- user level nodes -->
<g id="f01"><text class="t" x="1255" y="1292">会员分级标准</text></g>
<g id="f02"><text class="t" x="1255" y="1330">自然升级</text></g>
<g id="f03"><text class="t" x="1357" y="1330">升级行为构成</text></g>
<g id="f04"><text class="t" x="1255" y="1426">升级推荐</text></g>
<g id="f05"><text class="t" x="1255" y="1542">返回标签</text></g>
<g id="f06"><text class="t" x="1384" y="1280">分级评价标准</text></g>
<g id="f07"><text class="t" x="1384" y="1305">分级优惠标准</text></g>
<g id="f08"><text class="t" x="1356" y="1386">推荐升级产品</text></g>
<g id="f09"><text class="t" x="1356" y="1467">是否互动</text></g>
<g id="f10"><text class="t" x="1485" y="1355">名称</text></g>
<g id="f11"><text class="t" x="1485" y="1380">种类</text></g>
<g id="f12"><text class="t" x="1485" y="1417">差异化推荐</text></g>
<g id="f13"><text class="t" x="1600" y="1405">临界值推荐</text></g>
<g id="f14"><text class="t" x="1600" y="1430">非临界值推荐</text></g>
<g id="f15"><text class="t" x="1458" y="1455">产生互动</text></g>
<g id="f16"><text class="t" x="1458" y="1480">未产生互动</text></g>
<g id="f17"><text class="t" x="1356" y="1517">等级优惠享用标签</text></g>
<g id="f18"><text class="t" x="1356" y="1567">升级情况</text></g>
<g id="f19"><text class="t" x="1513" y="1505">优惠品类</text></g>
<g id="f20"><text class="t" x="1513" y="1530">周期</text></g>
<g id="f21"><text class="t" x="1458" y="1555">自然升级</text></g>
<g id="f22"><text class="t" x="1558" y="1555">参与哪些升级行为</text></g>
<g id="f23"><text class="t" x="1458" y="1580">刺激升级</text></g>
<g id="f24"><text class="t" x="1558" y="1580">刺激类型</text></g>
<g id="f25"><text class="t" x="1659" y="1580">升级推荐的利益方向</text></g>
<!-- marketing nodes -->
<g id="g01"><text class="t" x="1195" y="1671">相关商品推荐</text></g>
<g id="g02"><text class="t" x="1195" y="1965">营销活动制作</text></g>
<g id="g03"><text class="t" x="1195" y="2413">返回标签</text></g>
<g id="g04"><text class="t" x="1325" y="1646">订购相关推荐</text></g>
<g id="g05"><text class="t" x="1453" y="1646">相关性产品非同类型</text></g>
<g id="g06"><text class="t" x="1325" y="1696">浏览相关推荐</text></g>
<g id="g07"><text class="t" x="1453" y="1696">同类型不同品牌产品</text></g>
<g id="g08"><text class="t" x="1625" y="1634">页面推荐</text></g>
<g id="g09"><text class="t" x="1625" y="1659">营销推荐</text></g>
<g id="g10"><text class="t" x="1625" y="1684">页面推荐</text></g>
<g id="g11"><text class="t" x="1625" y="1709">营销推荐</text></g>
<g id="g12"><text class="t" x="1325" y="1734">名称</text></g>
<g id="g13"><text class="t" x="1325" y="1771">周期</text></g>
<g id="g14"><text class="t" x="1325" y="1859">类型</text></g>
<g id="g15"><text class="t" x="1325" y="1984">目标用户特征</text></g>
<g id="g16"><text class="t" x="1325" y="2109">优惠券</text></g>
<g id="g17"><text class="t" x="1325" y="2196">推送会员</text></g>
<g id="g18"><text class="t" x="1396" y="1759">活动周期</text></g>
<g id="g19"><text class="t" x="1396" y="1784">推送时间</text></g>
<g id="g20"><text class="t" x="1396" y="1809">品牌活动</text></g>
<g id="g21"><text class="t" x="1396" y="1834">品类活动</text></g>
<g id="g22"><text class="t" x="1396" y="1859">周期活动</text></g>
<g id="g23"><text class="t" x="1396" y="1884">节日活动</text></g>
<g id="g24"><text class="t" x="1396" y="1909">......</text></g>
<g id="g25"><text class="t" x="1453" y="1934">性别</text></g>
<g id="g26"><text class="t" x="1453" y="1959">年龄</text></g>
<g id="g27"><text class="t" x="1453" y="1984">阶层</text></g>
<g id="g28"><text class="t" x="1453" y="2009">地区</text></g>
<g id="g29"><text class="t" x="1453" y="2034">......</text></g>
<g id="g30"><text class="t" x="1411" y="2059">是否有</text></g>
<g id="g31"><text class="t" x="1411" y="2109">类型</text></g>
<g id="g32"><text class="t" x="1411" y="2159">优惠券品类</text></g>
<g id="g33"><text class="t" x="1483" y="2084">单一优惠券</text></g>
<g id="g34"><text class="t" x="1483" y="2109">复合优惠券</text></g>
<g id="g35"><text class="t" x="1483" y="2134">组合优惠券</text></g>
<g id="g36"><text class="t" x="1425" y="2184">会员分类</text></g>
<g id="g37"><text class="t" x="1526" y="2184">会员画像获取目标数据</text></g>
<g id="g38"><text class="t" x="1425" y="2209">数量</text></g>
<g id="g39"><text class="t" x="1296" y="2234">活动目标用户类型</text></g>
<g id="g40"><text class="t" x="1296" y="2297">活动特点</text></g>
<g id="g41"><text class="t" x="1296" y="2424">是否互动</text></g>
<g id="g42"><text class="t" x="1296" y="2593">参与活动</text></g>
<g id="g43"><text class="t" x="1397" y="2259">活动名称</text></g>
<g id="g44"><text class="t" x="1397" y="2334">类型</text></g>
<g id="g45"><text class="t" x="1469" y="2284">品牌活动</text></g>
<g id="g46"><text class="t" x="1469" y="2309">品类活动</text></g>
<g id="g47"><text class="t" x="1469" y="2334">周期活动</text></g>
<g id="g48"><text class="t" x="1469" y="2359">节日活动</text></g>
<g id="g49"><text class="t" x="1469" y="2384">......</text></g>
<g id="g50"><text class="t" x="1397" y="2411">互动会员</text></g>
<g id="g51"><text class="t" x="1397" y="2436">非互动会员</text></g>
<g id="g52"><text class="t" x="1397" y="2481">订购行为</text></g>
<g id="g53"><text class="t" x="1397" y="2550">互动反应周期</text></g>
<g id="g54"><text class="t" x="1397" y="2608">参与率</text></g>
<g id="g55"><text class="t" x="1397" y="2707">营销活动推荐标签</text></g>
<g id="g56"><text class="t" x="1499" y="2463">活动推荐商品</text></g>
<g id="g57"><text class="t" x="1499" y="2500">非活动推荐商品</text></g>
<g id="g58"><text class="t" x="1642" y="2488">活动商品相关</text></g>
<g id="g59"><text class="t" x="1642" y="2513">没有任何联系</text></g>
<g id="g60"><text class="t" x="1526" y="2538">实时反应</text></g>
<g id="g61"><text class="t" x="1526" y="2563">周期内反应</text></g>
<g id="g62"><text class="t" x="1483" y="2590">周期</text></g>
<g id="g63"><text class="t" x="1483" y="2627">推荐数量</text></g>
<g id="g64"><text class="t" x="1584" y="2615">参与数量</text></g>
<g id="g65"><text class="t" x="1584" y="2640">参与率</text></g>
<g id="g66"><text class="t" x="1555" y="2669">推荐时间</text></g>
<g id="g67"><text class="t" x="1555" y="2694">推荐数量</text></g>
<g id="g68"><text class="t" x="1555" y="2719">互动会员数量</text></g>
<g id="g69"><text class="t" x="1555" y="2744">推荐有效性</text></g>
<g id="note6"><text class="r" x="1532" y="2423">会员互动反射用户兴趣方向</text></g>
<g id="note7"><text class="r" x="1703" y="2615">完善用户消费性格标签</text></g>
<g id="note8"><text class="r" x="1703" y="2706">为营销活动推送周期提供数据建议</text></g>
</svg>
